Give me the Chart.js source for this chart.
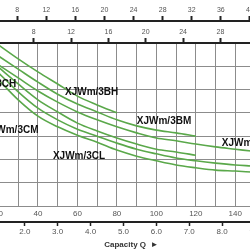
<!DOCTYPE html>
<html>
<head>
<meta charset="utf-8">
<script src="https://cdn.jsdelivr.net/npm/chart.js@4.4.1/dist/chart.umd.min.js"></script>
<style>
    html, body { margin: 0; padding: 0; width: 250px; height: 250px; overflow: hidden; background: #fff; }
    #wrap { position: absolute; left: -50px; top: 0; width: 315px; height: 250px; }
</style>
</head>
<body>
<div id="wrap"><canvas id="pumpChart" width="315" height="250"></canvas></div>
<script>
// Capacity Q in l/min, head in m
const flowBH = [20, 30, 40, 50, 60, 70, 80];
const headBH = [34.6, 31.6, 28.8, 26.2, 23.6, 21.7, 20.0];

const flowBM = [20, 30, 40, 50, 60, 70, 80, 90, 100, 110, 120];
const headBM = [32.2, 29.4, 26.6, 24.0, 21.9, 20.2, 18.5, 17.2, 16.3, 15.7, 15.0];

const flowBL = [20, 30, 40, 50, 60, 70, 80, 90, 100, 110, 120, 130, 140, 148];
const headBL = [30.3, 27.5, 24.7, 22.3, 20.2, 18.5, 17.0, 15.7, 14.6, 14.0, 13.3, 12.7, 12.2, 11.8];

const flowCH = [20, 30, 40, 50, 60, 70, 80, 90, 100, 110, 120];
const headCH = [29.8, 26.2, 22.8, 20.2, 17.8, 16.1, 14.6, 13.3, 12.2, 11.6, 10.9];

const flowCM = [20, 30, 40, 50, 60, 70, 80, 90, 100, 110, 120, 130, 140, 148];
const headCM = [28.6, 24.5, 21.0, 18.5, 16.5, 15.0, 13.5, 12.2, 11.2, 10.3, 9.7, 9.2, 8.8, 8.6];

const flowCL = [20, 30, 40, 50, 60, 70, 80, 90, 100, 110, 120, 130, 140, 148];
const headCL = [27.1, 22.8, 19.3, 17.0, 15.2, 13.7, 12.0, 10.7, 9.7, 8.8, 8.2, 7.7, 7.5, 7.3];

// curve names and where their labels sit (flow, head)
const curveNames = ['XJWm/3CH', 'XJWm/3CM', 'XJWm/3BH', 'XJWm/3CL', 'XJWm/3BM', 'XJWm/3BL'];
const labelFlow = [2.0, 12.7, 53.7, 47.6, 90.1, 133.2];
const labelHead = [26.2, 16.3, 24.5, 10.7, 18.2, 13.5];

const axisTitle = 'Capacity Q  \u25BA';
const axisTitleM3 = 5.24;

const green = '#5aa84a';
const fontFamily = '"Liberation Sans", Arial, sans-serif';

function toPoints(flow, head) {
    return flow.map((q, i) => ({ x: q, y: head[i] }));
}

function curve(flow, head) {
    return {
        data: toPoints(flow, head),
        borderColor: green,
        borderWidth: 1.6,
        pointRadius: 0,
        fill: false,
        cubicInterpolationMode: 'monotone'
    };
}

const curveLabels = {
    id: 'curveLabels',
    afterDatasetsDraw(chart) {
        const c = chart.ctx;
        const sx = chart.scales.x;
        const sy = chart.scales.y;
        c.save();
        c.font = 'bold 10px ' + fontFamily;
        c.fillStyle = '#111';
        c.textAlign = 'left';
        c.textBaseline = 'middle';
        curveNames.forEach((name, i) => {
            c.fillText(name, sx.getPixelForValue(labelFlow[i]), sy.getPixelForValue(labelHead[i]));
        });
        // axis title under the m3/h scale
        const m3 = chart.scales.m3;
        c.font = 'bold 8px ' + fontFamily;
        c.fillStyle = '#333';
        c.textAlign = 'center';
        c.fillText(axisTitle, m3.getPixelForValue(axisTitleM3), m3.bottom - 5);
        c.restore();
    }
};

const ctx = document.getElementById('pumpChart');

new Chart(ctx, {
    type: 'line',
    data: {
        datasets: [
            curve(flowBH, headBH),
            curve(flowBM, headBM),
            curve(flowBL, headBL),
            curve(flowCH, headCH),
            curve(flowCM, headCM),
            curve(flowCL, headCL)
        ]
    },
    options: {
        responsive: false,
        animation: false,
        layout: { padding: { top: 3, left: 9, right: 10, bottom: 0 } },
        plugins: {
            legend: { display: false },
            tooltip: { enabled: false }
        },
        scales: {
            x: {
                type: 'linear',
                position: 'bottom',
                weight: 0,
                min: 0,
                max: 150,
                ticks: {
                    stepSize: 10,
                    autoSkip: false,
                    maxRotation: 0,
                    padding: 3,
                    color: '#555',
                    font: { family: fontFamily, size: 8 },
                    callback: v => (v % 20 === 0 ? v : '')
                },
                grid: { color: '#8c8c8c', lineWidth: 1, drawTicks: false },
                border: { color: '#8c8c8c', width: 1 },
                afterFit: s => { s.height = 16; }
            },
            m3: {
                type: 'linear',
                position: 'bottom',
                weight: 1,
                min: 0,
                max: 9,
                ticks: {
                    stepSize: 1,
                    autoSkip: false,
                    maxRotation: 0,
                    padding: 1,
                    color: '#555',
                    font: { family: fontFamily, size: 8 },
                    callback: v => v.toFixed(1)
                },
                grid: { drawOnChartArea: false, color: '#222', tickLength: 4, tickWidth: 1.5 },
                border: { color: '#222', width: 2 },
                afterFit: s => { s.height = 28; }
            },
            gpmUS: {
                type: 'linear',
                position: 'top',
                weight: 2,
                min: 0,
                max: 40.7,
                ticks: {
                    stepSize: 4,
                    includeBounds: false,
                    autoSkip: false,
                    maxRotation: 0,
                    padding: 2,
                    color: '#555',
                    font: { family: fontFamily, size: 7 }
                },
                grid: { drawOnChartArea: false, color: '#222', tickLength: 5, tickWidth: 2 },
                border: { color: '#222', width: 2 },
                afterFit: s => { s.height = 18; }
            },
            gpmImp: {
                type: 'linear',
                position: 'top',
                weight: 1,
                min: 0,
                max: 31.7,
                ticks: {
                    stepSize: 4,
                    includeBounds: false,
                    autoSkip: false,
                    maxRotation: 0,
                    padding: 2,
                    color: '#555',
                    font: { family: fontFamily, size: 7 }
                },
                grid: { drawOnChartArea: false, color: '#222', tickLength: 5, tickWidth: 2 },
                border: { color: '#222', width: 2 },
                afterFit: s => { s.height = 22; }
            },
            y: {
                type: 'linear',
                min: 0,
                max: 35,
                ticks: { stepSize: 5, display: false },
                grid: { color: '#8c8c8c', lineWidth: 1, drawTicks: false },
                border: { display: false },
                afterFit: s => { s.width = 0; }
            }
        }
    },
    plugins: [curveLabels]
});
</script>
</body>
</html>
